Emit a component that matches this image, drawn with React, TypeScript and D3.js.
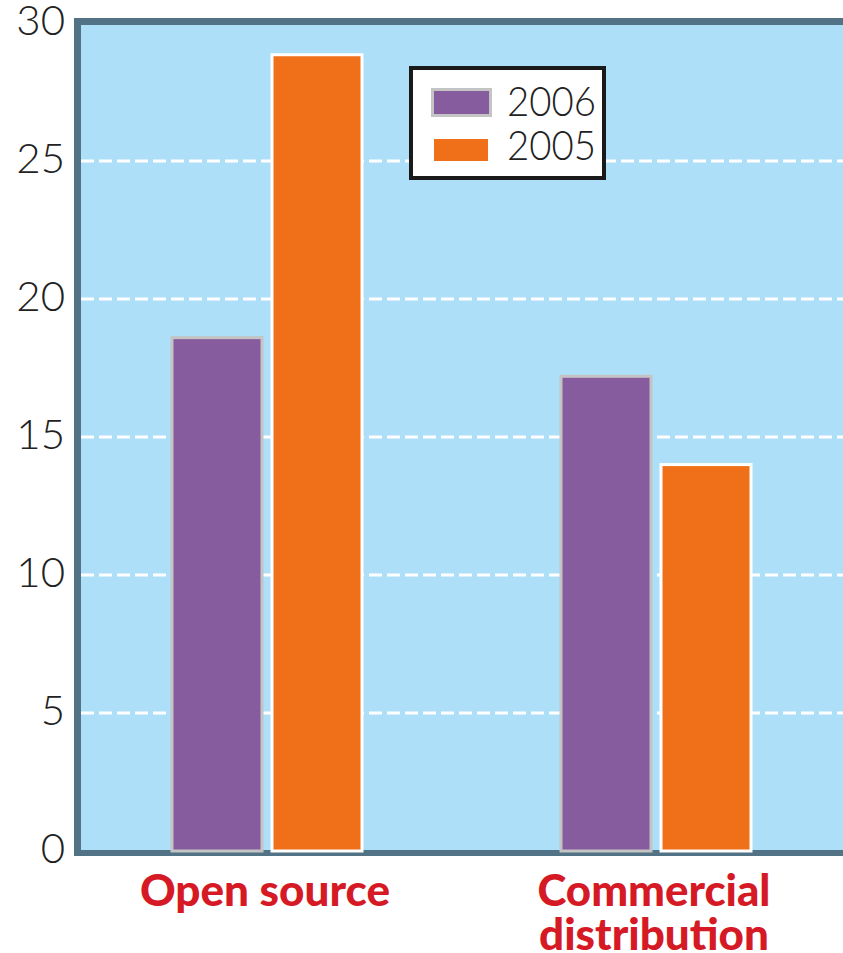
import React from "react";
import * as d3 from "d3";

const categories = ["Open source", "Commercial distribution"];
const categoryLines = [["Open source"], ["Commercial", "distribution"]];
const seriesNames = ["2006", "2005"];
const values2006 = [18.6, 17.2];
const values2005 = [28.85, 14.0];
const yTicks = [0, 5, 10, 15, 20, 25, 30];

const W = 843;
const H = 953;

export default function App() {
  const y = d3.scaleLinear().domain([0, 30]).range([851, 23]);
  const x0 = d3.scaleBand<string>().domain(categories).range([72.5, 850.5]).paddingInner(0);
  const x1 = d3.scaleBand<string>().domain(seriesNames).range([-95, 95]).paddingInner(0.1);
  const seriesValues = [values2006, values2005];
  const fills = ["#875C9E", "#F06F19"];
  const strokes = ["#C4C4C4", "#FFFFFF"];
  const labelWidths = [[250], [233, 230]];

  return (
    <svg
      width={W}
      height={H}
      style={{ position: "absolute", left: 0, top: 0 }}
      viewBox={`0 0 ${W} ${H}`}
    >
      {/* plot background */}
      <rect x={74} y={18} width={W - 74} height={838} fill="#527385" />
      <rect x={81} y={25} width={W - 81} height={825} fill="#AEDFF9" />

      {/* grid lines */}
      {yTicks
        .filter((t) => t > 0 && t < 30)
        .map((t) => (
          <line
            key={t}
            x1={81}
            x2={W}
            y1={y(t)}
            y2={y(t)}
            stroke="#FFFFFF"
            strokeWidth={3}
            strokeDasharray="13 5"
          />
        ))}

      {/* y tick labels */}
      {yTicks.map((t) => (
        <text
          key={t}
          x={65}
          y={y(t) + 12}
          textAnchor="end"
          fontFamily="Lato, 'Open Sans', sans-serif"
          fontWeight={300}
          fontSize={42}
          fill="#222"
        >
          {t}
        </text>
      ))}

      {/* bars */}
      {categories.map((c, ci) =>
        seriesNames.map((s, si) => {
          const cx = (x0(c) ?? 0) + x0.bandwidth() / 2;
          const bx = cx + (x1(s) ?? 0);
          const v = seriesValues[si][ci];
          return (
            <rect
              key={c + s}
              x={bx}
              y={y(v)}
              width={x1.bandwidth()}
              height={y(0) - y(v)}
              fill={fills[si]}
              stroke={strokes[si]}
              strokeWidth={3}
            />
          );
        })
      )}

      {/* legend */}
      <rect x={411} y={68} width={193} height={110} fill="#FFFFFF" stroke="#1A1A1A" strokeWidth={4} />
      {seriesNames.map((s, si) => (
        <g key={s}>
          <rect
            x={si === 0 ? 432.5 : 434}
            y={si === 0 ? 89.5 : 139}
            width={si === 0 ? 58 : 54}
            height={si === 0 ? 26 : 22}
            fill={fills[si]}
            stroke={si === 0 ? "#C4C4C4" : "none"}
            strokeWidth={3}
          />
          <text
            x={507}
            y={si === 0 ? 116 : 160}
            fontFamily="Lato, 'Open Sans', sans-serif"
            fontWeight={300}
            fontSize={42}
            fill="#222"
            textLength={89}
            lengthAdjust="spacingAndGlyphs"
          >
            {s}
          </text>
        </g>
      ))}

      {/* category labels */}
      {categories.map((c, ci) => {
        const cx = (x0(c) ?? 0) + x0.bandwidth() / 2;
        return categoryLines[ci].map((line, li) => (
          <text
            key={c + li}
            x={cx - 2}
            y={906 + li * 44}
            textAnchor="middle"
            fontFamily="Lato, sans-serif"
            fontWeight={900}
            fontSize={44}
            fill="#D51A25"
            textLength={labelWidths[ci][li]}
            lengthAdjust="spacingAndGlyphs"
          >
            {line}
          </text>
        ));
      })}
    </svg>
  );
}
